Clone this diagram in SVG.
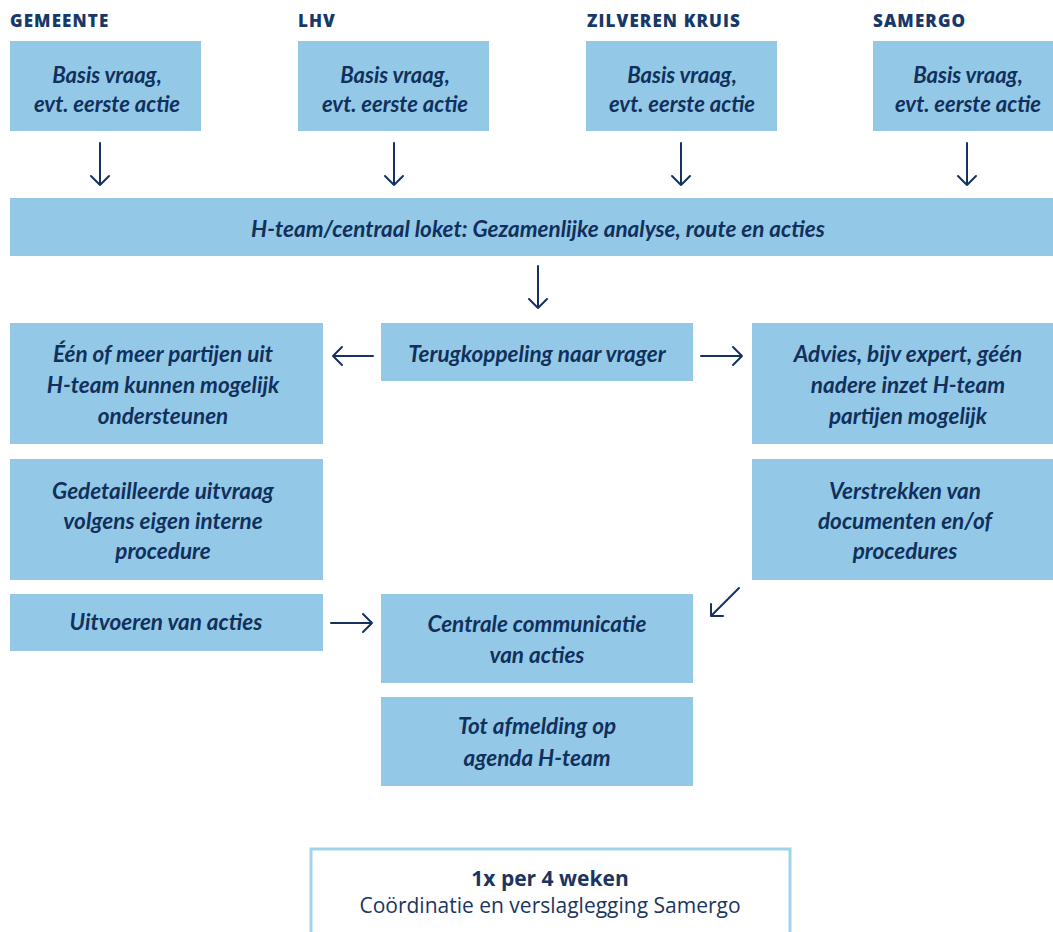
<svg xmlns="http://www.w3.org/2000/svg" width="1053" height="932" viewBox="0 0 1053 932">
<style>
.box{fill:#93c9e7}
.t{font-family:Lato,"Open Sans",sans-serif;font-style:italic;font-weight:700;font-size:22.5px;fill:#11305c;text-anchor:middle}
.s{font-size:22px}
.h{font-family:"Open Sans",sans-serif;font-weight:800;font-size:17px;fill:#17386a;letter-spacing:1.1px}
.a{fill:none;stroke:#15325f;stroke-width:2;stroke-linecap:round;stroke-linejoin:round}
.b{font-family:"Open Sans",sans-serif;font-size:21px;fill:#1b3560;text-anchor:middle}
</style>
<rect width="1053" height="932" fill="#ffffff"/>
<g id="hdr-gemeente"><text class="h" x="10" y="27">GEMEENTE</text></g>
<g id="hdr-lhv"><text class="h" x="298" y="27">LHV</text></g>
<g id="hdr-zk"><text class="h" x="587" y="27">ZILVEREN KRUIS</text></g>
<g id="hdr-samergo"><text class="h" x="873" y="27">SAMERGO</text></g>

<g id="n-gemeente"><rect class="box" x="10" y="41" width="191" height="90"/><text class="t s" x="107" y="83">Basis vraag,</text><text class="t s" x="107" y="112">evt. eerste actie</text></g>
<g id="n-lhv"><rect class="box" x="298" y="41" width="191" height="90"/><text class="t s" x="395" y="83">Basis vraag,</text><text class="t s" x="395" y="112">evt. eerste actie</text></g>
<g id="n-zk"><rect class="box" x="586" y="41" width="191" height="90"/><text class="t s" x="682" y="83">Basis vraag,</text><text class="t s" x="682" y="112">evt. eerste actie</text></g>
<g id="n-samergo"><rect class="box" x="873" y="41" width="191" height="90"/><text class="t s" x="968" y="83">Basis vraag,</text><text class="t s" x="968" y="112">evt. eerste actie</text></g>

<g id="n-hteam"><rect class="box" x="10" y="198" width="1053" height="58"/><text class="t" x="538" y="237">H-team/centraal loket: Gezamenlijke analyse, route en acties</text></g>

<g id="n-terug"><rect class="box" x="381" y="323" width="312" height="58"/><text class="t" x="537" y="362">Terugkoppeling naar vrager</text></g>

<g id="n-partijen"><rect class="box" x="10" y="323" width="313" height="121"/><text class="t" x="163" y="362">Één of meer partijen uit</text><text class="t" x="163" y="393">H-team kunnen mogelijk</text><text class="t" x="163" y="424">ondersteunen</text></g>
<g id="n-uitvraag"><rect class="box" x="10" y="459" width="313" height="121"/><text class="t" x="163" y="499">Gedetailleerde uitvraag</text><text class="t" x="163" y="529">volgens eigen interne</text><text class="t" x="163" y="559">procedure</text></g>
<g id="n-uitvoeren"><rect class="box" x="10" y="594" width="313" height="57"/><text class="t" x="166" y="630">Uitvoeren van acties</text></g>

<g id="n-advies"><rect class="box" x="752" y="323" width="312" height="121"/><text class="t" x="908" y="362">Advies, bijv expert, géén</text><text class="t" x="908" y="393">nadere inzet H-team</text><text class="t" x="908" y="424">partijen mogelijk</text></g>
<g id="n-verstrekken"><rect class="box" x="752" y="459" width="312" height="121"/><text class="t" x="905" y="499">Verstrekken van</text><text class="t" x="905" y="529">documenten en/of</text><text class="t" x="905" y="559">procedures</text></g>

<g id="n-centrale"><rect class="box" x="381" y="594" width="312" height="89"/><text class="t" x="537" y="632">Centrale communicatie</text><text class="t" x="537" y="663">van acties</text></g>
<g id="n-afmelding"><rect class="box" x="381" y="697" width="312" height="89"/><text class="t" x="537" y="734">Tot afmelding op</text><text class="t" x="537" y="766">agenda H-team</text></g>

<g id="n-coordinatie"><rect x="311" y="849" width="479" height="95" fill="#ffffff" stroke="#a2d3eb" stroke-width="3"/><text class="b" x="550" y="886" font-weight="700" font-size="20px">1x per 4 weken</text><text class="b" x="550" y="913">Coördinatie en verslaglegging Samergo</text></g>

<g id="connectors">
<path class="a" d="M100,143V185M91,176L100,185L109,176"/>
<path class="a" d="M394,143V185M385,176L394,185L403,176"/>
<path class="a" d="M681,143V185M672,176L681,185L690,176"/>
<path class="a" d="M967,143V185M958,176L967,185L976,176"/>
<path class="a" d="M538,266V308M529,299L538,308L547,299"/>
<path class="a" d="M373,356H333M342,347L333,356L342,365"/>
<path class="a" d="M701,356H742M733,347L742,356L733,365"/>
<path class="a" d="M331,623H372M363,614L372,623L363,632"/>
<path class="a" d="M739,588L711,616M711,604L711,616L723,616"/>
</g>
</svg>
